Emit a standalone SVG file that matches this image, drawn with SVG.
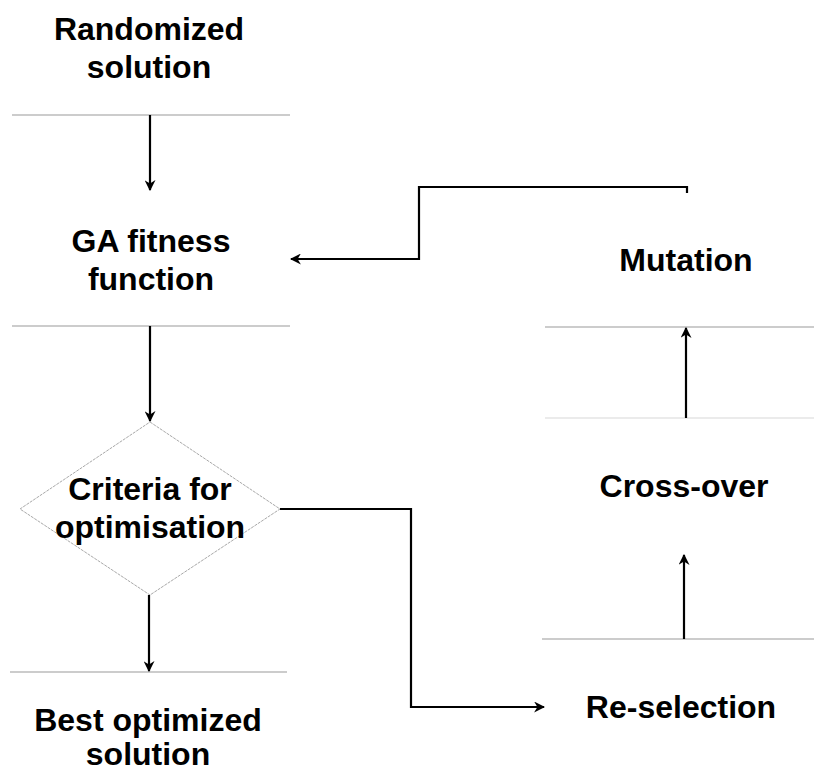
<svg xmlns="http://www.w3.org/2000/svg" width="814" height="772" viewBox="0 0 814 772">
<style>
.t{font-family:"Liberation Sans",Arial,sans-serif;font-weight:bold;font-size:32px;fill:#000;text-anchor:middle}
.sep{stroke:#9a9a9a;stroke-width:1.2;fill:none}
.sepl{stroke:#d8d8d8;stroke-width:1.2;fill:none}
.c{stroke:#000;stroke-width:2.2;fill:none}
</style>
<defs>
<marker id="ah" viewBox="0 0 10 10" refX="9" refY="5" markerWidth="5" markerHeight="5" orient="auto" markerUnits="strokeWidth">
<path d="M0,0 L10,5 L0,10 L3,5 Z" fill="#000"/>
</marker>
</defs>
<rect width="814" height="772" fill="#fff"/>
<g id="randomized">
<text class="t" x="149" y="40">Randomized</text>
<text class="t" x="149" y="78">solution</text>
<line class="sep" x1="12" y1="115" x2="290" y2="115"/>
</g>
<g id="fitness">
<text class="t" x="151" y="252">GA fitness</text>
<text class="t" x="151" y="290">function</text>
<line class="sep" x1="12" y1="326" x2="290" y2="326"/>
</g>
<g id="criteria">
<polygon points="150,422 280,509 150,595 20,509" fill="none" stroke="#a8a8a8" stroke-width="1" stroke-dasharray="3,1"/>
<text class="t" x="150" y="500">Criteria for</text>
<text class="t" x="150" y="538">optimisation</text>
</g>
<g id="best">
<line class="sep" x1="10" y1="672" x2="287" y2="672"/>
<text class="t" x="148" y="731">Best optimized</text>
<text class="t" x="148" y="765">solution</text>
</g>
<g id="mutation">
<text class="t" x="686" y="271">Mutation</text>
<line class="sep" x1="545" y1="327" x2="814" y2="327"/>
</g>
<g id="crossover">
<line class="sepl" x1="545" y1="418" x2="814" y2="418"/>
<text class="t" x="684" y="497">Cross-over</text>
<line class="sep" x1="542" y1="639" x2="814" y2="639"/>
</g>
<g id="reselection">
<text class="t" x="681" y="718">Re-selection</text>
</g>
<g id="connectors">
<line class="c" x1="150" y1="115" x2="150" y2="190" marker-end="url(#ah)"/>
<line class="c" x1="150" y1="326" x2="150" y2="421" marker-end="url(#ah)"/>
<line class="c" x1="149" y1="595" x2="149" y2="671" marker-end="url(#ah)"/>
<polyline class="c" points="280,509 411,509 411,707 544,707" marker-end="url(#ah)"/>
<line class="c" x1="684" y1="639" x2="684" y2="555" marker-end="url(#ah)"/>
<line class="c" x1="686" y1="418" x2="686" y2="328" marker-end="url(#ah)"/>
<polyline class="c" points="687,193 687,187 419,187 419,259 291,259" marker-end="url(#ah)"/>
</g>
</svg>
